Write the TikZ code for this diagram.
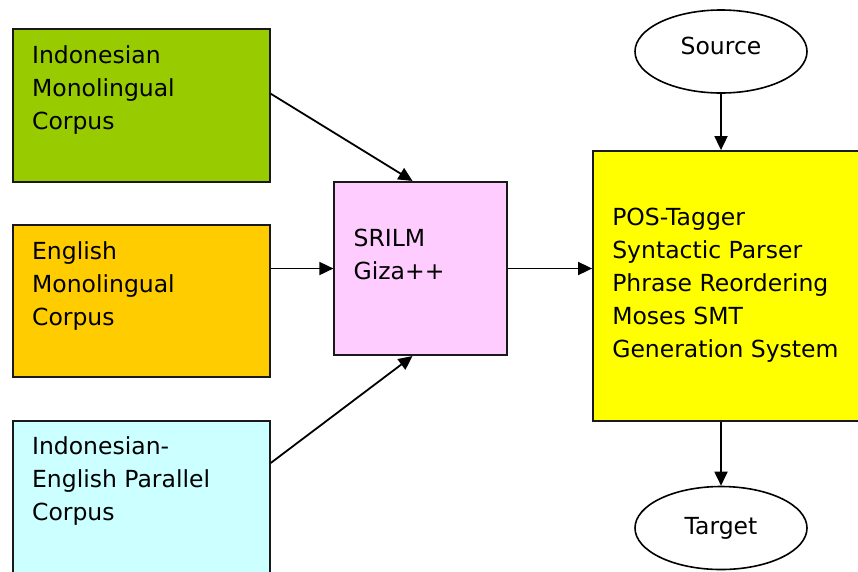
\documentclass[tikz,border=0pt]{standalone}
\usepackage{fontspec}
\setmainfont{DejaVu Sans}
\usetikzlibrary{arrows.meta}
\usetikzlibrary{shapes.geometric}
\definecolor{corpusgreen}{HTML}{99CC00}
\definecolor{corpusorange}{HTML}{FFCC00}
\definecolor{corpuscyan}{HTML}{CCFFFF}
\definecolor{toolpink}{HTML}{FFCCFF}
\definecolor{smtyellow}{HTML}{FFFF00}
\tikzset{
  box/.style={
    rectangle, draw=black!90, line width=1.8pt, inner sep=0pt,
  },
  boxtext/.style={
    anchor=base west, align=left, inner sep=0pt,
    font=\fontsize{23.5}{33}\selectfont,
  },
  terminal/.style={
    ellipse, draw, line width=1.6pt, inner sep=0pt,
    minimum width=172pt, minimum height=83pt,
    text height=17pt, text depth=5pt,
    font=\fontsize{23.5}{33}\selectfont,
  },
  flow/.style={
    -{Triangle[length=14pt,width=13pt]}, line width=1.8pt,
  },
}

\begin{document}
\begin{tikzpicture}[x=1pt, y=-1pt]
  \useasboundingbox (0,0) rectangle (858,571);

  % Define nodes
  \node[box, fill=corpusgreen, minimum width=257pt, minimum height=152.7pt] (mono_id) at (141.3,105.7) {};
  \node[box, fill=corpusorange, minimum width=257pt, minimum height=152pt] (mono_en) at (141.3,301) {};
  \node[box, fill=corpuscyan, minimum width=257pt, minimum height=152pt] (parallel) at (141.3,496.7) {};

  \node[box, fill=toolpink, minimum width=172.4pt, minimum height=173.3pt] (tools) at (420.5,268.5) {};
  \node[box, fill=smtyellow, minimum width=269pt, minimum height=270pt] (smt) at (727.5,286) {};

  \node[terminal, text depth=11pt] (source) at (721,51.5) {Source};
  \node[terminal] (target) at (721,528) {Target};

  % text sits on the last baseline
  \node[boxtext] (mono_id_text) at ([shift={(20,101)}]mono_id.north west) {Indonesian\\Monolingual\\Corpus};
  \node[boxtext] (mono_en_text) at ([shift={(20,101)}]mono_en.north west) {English\\Monolingual\\Corpus};
  \node[boxtext] (parallel_text) at ([shift={(20,101)}]parallel.north west) {Indonesian-\\English Parallel\\Corpus};
  \node[boxtext] (tools_text) at ([shift={(20,99)}]tools.north west) {SRILM\\Giza++};
  \node[boxtext] (smt_text) at ([shift={(20,207.7)}]smt.north west) {POS-Tagger\\Syntactic Parser\\Phrase Reordering\\Moses SMT\\Generation System};

  % Connect nodes
  \draw[flow] ([yshift=12pt]mono_id.east) -- ([xshift=-8pt]tools.north);
  \draw[flow] (mono_en.east |- tools.west) -- (tools.west);
  \draw[flow] ([yshift=33.7pt]parallel.east) -- ([xshift=-8pt]tools.south);

  \draw[flow] (tools.east) -- (smt.west |- tools.east);

  \draw[flow] (source.south) -- (source.south |- smt.north);
  \draw[flow] (smt.south -| target.north) -- (target.north);

\end{tikzpicture}
\end{document}
